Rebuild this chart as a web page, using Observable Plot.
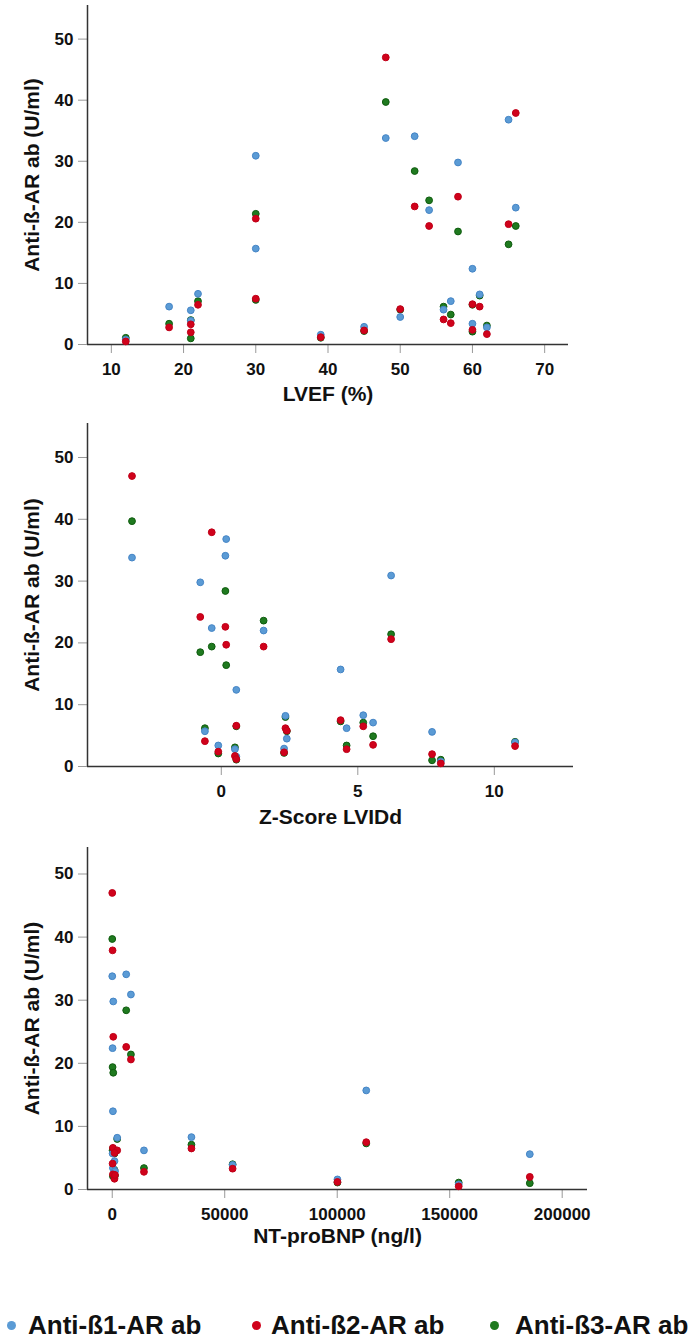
<!DOCTYPE html>
<html><head><meta charset="utf-8">
<script src="https://cdn.jsdelivr.net/npm/d3@7"></script>
<script src="https://cdn.jsdelivr.net/npm/@observablehq/plot@0.6"></script>
<style>
body{margin:0;background:#fff;}
#wrap{position:relative;width:696px;height:1339px;font-family:"Liberation Sans",Arial,sans-serif;background:#fff;overflow:hidden;}
.panel{position:absolute;left:0;}
.leg{position:absolute;top:1310px;height:30px;line-height:30px;font-size:26px;font-weight:bold;color:#111;white-space:nowrap;}
.sw{position:absolute;top:1321px;width:9px;height:9px;border-radius:50%;}
</style></head><body><div id="wrap"></div>
<script>
// Patients (same order across panels)
const lvef     = [48, 52, 65, 66, 30, 30, 58, 54, 60, 60, 61, 62, 57, 56, 50, 45, 39, 22, 18, 21, 21, 12];
const zScore   = [-3.27, 0.15, 0.18, -0.35, 6.22, 4.37, -0.77, 1.55, 0.55, -0.11, 2.35, 0.5, 5.56, -0.6, 2.4, 2.3, 0.55, 5.2, 4.59, 7.72, 10.76, 8.04];
const ntProBNP = [0, 6200, null, 150, 8300, 112900, 450, null, 300, 300, 2200, 1000, null, 150, 1000, 1200, 100100, 35200, 14100, 185600, 53500, 154000];
const beta1    = [33.8, 34.1, 36.8, 22.4, 30.9, 15.7, 29.8, 22.0, 12.4, 3.4, 8.2, 2.8, 7.1, 5.7, 4.5, 2.9, 1.6, 8.3, 6.2, 5.6, 3.9, 0.8];
const beta2    = [47.0, 22.6, 19.7, 37.9, 20.6, 7.5, 24.2, 19.4, 6.6, 2.4, 6.2, 1.7, 3.5, 4.1, 5.8, 2.3, 1.2, 6.5, 2.8, 2.0, 3.3, 0.5];
const beta3    = [39.7, 28.4, 16.4, 19.4, 21.4, 7.3, 18.5, 23.6, 6.5, 2.1, 8.0, 3.1, 4.9, 6.2, 5.7, 2.2, 1.1, 7.1, 3.4, 1.0, 4.0, 1.1];

const seriesNames = ["Anti-ß1-AR ab", "Anti-ß2-AR ab", "Anti-ß3-AR ab"];
const seriesColors = ["#5b9bd5", "#d0021b", "#1f7a1f"];
const seriesStrokes = ["#4585c6", "#c00018", "#0f5c0f"];
const yTicks = [0, 10, 20, 30, 40, 50];
const yLabel = "Anti-ß-AR ab (U/ml)";
const lvefTicks = [10, 20, 30, 40, 50, 60, 70];
const zTicks = [0, 5, 10];
const bnpTicks = [0, 50000, 100000, 150000, 200000];
const xLabels = ["LVEF (%)", "Z-Score LVIDd", "NT-proBNP (ng/l)"];

const wrap = document.getElementById("wrap");
const font = '"Liberation Sans", Arial, sans-serif';

function panel(xs, cfg) {
  const values = [beta1, beta2, beta3];
  const order = [2, 0, 1]; // green, blue, red (red on top)
  const dotMarks = order.map(s => {
    const rows = xs.map((x, i) => ({x, y: values[s][i]})).filter(d => d.x != null && d.y != null);
    return Plot.dot(rows, {x: "x", y: "y", r: 3.4, fill: seriesColors[s], stroke: seriesStrokes[s], strokeWidth: 1});
  });
  return Plot.plot({
    width: 696, height: cfg.height,
    marginLeft: 87, marginRight: cfg.marginRight, marginTop: cfg.marginTop, marginBottom: cfg.marginBottom,
    x: {domain: cfg.xDomain},
    y: {domain: [0, cfg.yMax]},
    style: {fontFamily: font, fontWeight: "bold", background: "white", overflow: "visible", color: "#111"},
    marks: [
      Plot.axisY({ticks: yTicks, tickSize: 9, tickPadding: 5, fontSize: 17, stroke: "#999", fill: "#111", label: null}),
      Plot.axisX({ticks: cfg.xTicks, tickSize: 9, tickPadding: 9, fontSize: 17, stroke: "#999", fill: "#111", label: null, tickFormat: cfg.tickFormat}),
      Plot.ruleX([cfg.xDomain[0]], {stroke: "#333", strokeWidth: 1.5}),
      Plot.ruleY([0], {stroke: "#333", strokeWidth: 1.5}),
      ...dotMarks,
      Plot.text([cfg.xLabel], {text: d => d, frameAnchor: "bottom", dy: cfg.labelDy, fontSize: 21, fontWeight: "bold", fill: "#111"}),
      Plot.text([yLabel], {text: d => d, frameAnchor: "left", textAnchor: "middle", rotate: -90, dx: -55, fontSize: 21, fontWeight: "bold", fill: "#111"})
    ]
  });
}

const p1 = panel(lvef, {height: 410, marginTop: 5, marginBottom: 66, marginRight: 128, xDomain: [6.7, 73.3], yMax: 55.5, xTicks: lvefTicks, xLabel: xLabels[0], labelDy: 56, tickFormat: d3.format("d")});
const p2 = panel(zScore, {height: 430, marginTop: 13, marginBottom: 74, marginRight: 123, xDomain: [-4.9, 12.9], yMax: 55.5, xTicks: zTicks, xLabel: xLabels[1], labelDy: 57, tickFormat: d3.format("d")});
const p3 = panel(ntProBNP, {height: 430, marginTop: 7, marginBottom: 81, marginRight: 109, xDomain: [-11000, 211250], yMax: 54.2, xTicks: bnpTicks, xLabel: xLabels[2], labelDy: 53, tickFormat: d3.format("d")});

[[p1, 0], [p2, 410], [p3, 840]].forEach(([p, top]) => {
  p.classList.add("panel");
  p.style.top = top + "px";
  wrap.appendChild(p);
});

// Legend
const legendX = [11, 256, 494];
const legendTextX = [28, 271, 515];
seriesNames.forEach((name, i) => {
  const sw = document.createElement("div");
  sw.className = "sw";
  sw.style.left = (legendX[i] - 4.5) + "px";
  sw.style.background = seriesColors[i];
  wrap.appendChild(sw);
  const t = document.createElement("div");
  t.className = "leg";
  t.style.left = legendTextX[i] + "px";
  t.textContent = name;
  wrap.appendChild(t);
});
</script></body></html>
